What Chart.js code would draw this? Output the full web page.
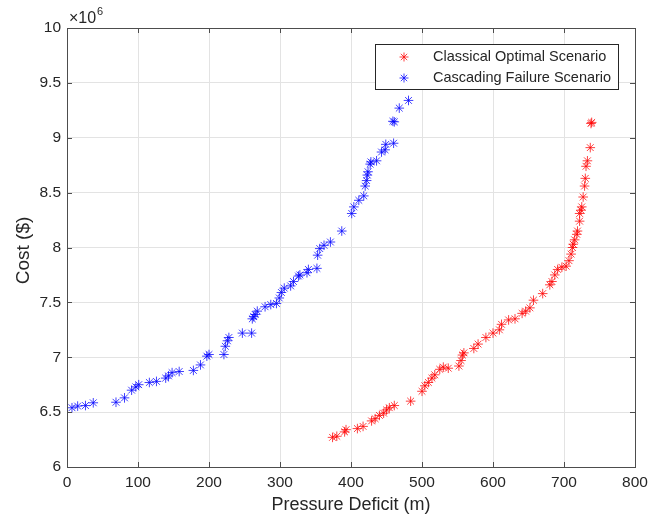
<!DOCTYPE html>
<html>
<head>
<meta charset="utf-8">
<script src="https://cdn.jsdelivr.net/npm/chart.js@4.4.1/dist/chart.umd.min.js"></script>
<style>
  html, body { margin: 0; padding: 0; background: #fff; }
  #wrap { width: 665px; height: 519px; }
</style>
</head>
<body>
<div id="wrap"><canvas id="costChart" width="665" height="519"></canvas></div>
<script>
// cost values are in millions of $ (axis shows x10^6)
const classicalDeficit = [374, 380, 391, 393, 409, 417, 429, 434, 440, 446, 450, 454, 461, 484,
  500, 504, 509, 514, 518, 525, 530, 537, 552, 555, 557, 559, 573, 579, 590, 600, 609, 612,
  622, 631, 641, 646, 652, 657, 670, 680, 683, 687, 691, 697, 703, 707, 710, 712, 713, 715,
  718, 719, 722, 722, 724, 725, 727, 729, 730, 731, 733, 737, 738, 739];
const classicalCost = [6.27, 6.28, 6.32, 6.34, 6.35, 6.37, 6.42, 6.44, 6.47, 6.49, 6.52, 6.54, 6.56, 6.60,
  6.69, 6.74, 6.77, 6.81, 6.84, 6.89, 6.91, 6.90, 6.92, 6.97, 7.02, 7.04, 7.08, 7.12, 7.18, 7.22, 7.25, 7.30,
  7.34, 7.35, 7.40, 7.42, 7.45, 7.52, 7.58, 7.66, 7.69, 7.75, 7.80, 7.82, 7.83, 7.88, 7.94, 8.00, 8.03, 8.07,
  8.12, 8.15, 8.24, 8.31, 8.34, 8.37, 8.46, 8.56, 8.63, 8.74, 8.79, 8.91, 9.13, 9.14];

const cascadingDeficit = [7, 15, 26, 37, 69, 81, 91, 97, 101, 116, 126, 139, 143, 148, 158, 178, 188,
  197, 200, 221, 223, 226, 228, 247, 260, 261, 263, 265, 268, 279, 287, 295, 299, 302, 306, 315, 319,
  326, 328, 338, 340, 352, 353, 356, 362, 371, 387, 401, 404, 411, 418, 420, 422, 423, 424, 427, 428,
  436, 443, 448, 449, 460, 459, 461, 468, 481];
const cascadingCost = [6.54, 6.555, 6.56, 6.585, 6.59, 6.63, 6.70, 6.73, 6.75, 6.77, 6.78, 6.81, 6.83, 6.86, 6.87, 6.88, 6.93,
  7.01, 7.025, 7.025, 7.10, 7.15, 7.18, 7.22, 7.22, 7.35, 7.37, 7.39, 7.42, 7.46, 7.48, 7.49, 7.54, 7.59, 7.63, 7.65, 7.69,
  7.74, 7.75, 7.77, 7.80, 7.81, 7.93, 7.99, 8.02, 8.05, 8.15, 8.31, 8.37, 8.43, 8.47, 8.56, 8.61, 8.66, 8.69, 8.76, 8.78,
  8.79, 8.87, 8.89, 8.94, 8.95, 9.15, 9.145, 9.27, 9.34];

const seriesNames = ['Classical Optimal Scenario', 'Cascading Failure Scenario'];
const seriesColors = ['rgba(255,0,0,0.75)', 'rgba(0,0,255,0.75)'];
const xTicks = [0, 100, 200, 300, 400, 500, 600, 700, 800];
const yTicks = [6, 6.5, 7, 7.5, 8, 8.5, 9, 9.5, 10];
const xLabel = 'Pressure Deficit (m)';
const yLabel = 'Cost ($)';

const toPoints = (xs, ys) => xs.map((x, i) => ({ x: x, y: ys[i] }));

const FONT = '"Liberation Sans", Arial, sans-serif';
const TEXT = '#262626';

function asterisk(ctx, x, y, r) {
  ctx.beginPath();
  ctx.moveTo(x - r, y); ctx.lineTo(x + r, y);
  ctx.moveTo(x, y - r); ctx.lineTo(x, y + r);
  const d = r * 0.707;
  ctx.moveTo(x - d, y - d); ctx.lineTo(x + d, y + d);
  ctx.moveTo(x - d, y + d); ctx.lineTo(x + d, y - d);
  ctx.stroke();
}

// box, inward ticks, axis titles, exponent and legend (MATLAB look)
const matlabFrame = {
  id: 'matlabFrame',
  afterDraw(chart) {
    const ctx = chart.ctx;
    const a = chart.chartArea;
    const xs = chart.scales.x, ys = chart.scales.y;
    ctx.save();
    ctx.strokeStyle = '#4d4d4d';
    ctx.lineWidth = 1;
    ctx.strokeRect(Math.round(a.left) + 0.5, Math.round(a.top) + 0.5,
      Math.round(a.right - a.left), Math.round(a.bottom - a.top));
    ctx.beginPath();
    xTicks.forEach(t => {
      const px = Math.round(xs.getPixelForValue(t)) + 0.5;
      ctx.moveTo(px, a.bottom); ctx.lineTo(px, a.bottom - 5);
      ctx.moveTo(px, a.top); ctx.lineTo(px, a.top + 5);
    });
    yTicks.forEach(t => {
      const py = Math.round(ys.getPixelForValue(t)) + 0.5;
      ctx.moveTo(a.left, py); ctx.lineTo(a.left + 5, py);
      ctx.moveTo(a.right, py); ctx.lineTo(a.right - 5, py);
    });
    ctx.stroke();

    ctx.fillStyle = TEXT;
    ctx.font = '18px ' + FONT;
    ctx.textAlign = 'center';
    ctx.textBaseline = 'middle';
    ctx.fillText(xLabel, (a.left + a.right) / 2, 505);
    ctx.save();
    ctx.translate(24, (a.top + a.bottom) / 2 + 3);
    ctx.rotate(-Math.PI / 2);
    ctx.font = '19px ' + FONT;
    ctx.fillText(yLabel, 0, 0);
    ctx.restore();

    ctx.textAlign = 'left';
    ctx.font = '16px ' + FONT;
    ctx.fillText('\u00d710', 69, 19);
    ctx.font = '11px ' + FONT;
    ctx.fillText('6', 97, 12);

    // legend
    const lx = 375, ly = 44, lw = 243, lh = 45;
    ctx.fillStyle = '#fff';
    ctx.fillRect(lx, ly, lw, lh);
    ctx.strokeStyle = '#262626';
    ctx.strokeRect(lx + 0.5, ly + 0.5, lw, lh);
    ctx.font = '14.5px ' + FONT;
    seriesNames.forEach((name, i) => {
      const cy = ly + 13 + i * 21;
      ctx.strokeStyle = seriesColors[i];
      asterisk(ctx, 404, cy, 4.5);
      ctx.fillStyle = TEXT;
      ctx.fillText(name, 433, cy);
    });
    ctx.restore();
  }
};

const ctx = document.getElementById('costChart').getContext('2d');
new Chart(ctx, {
  type: 'scatter',
  data: {
    datasets: [
      {
        label: seriesNames[0],
        data: toPoints(classicalDeficit, classicalCost),
        pointStyle: 'star',
        pointRadius: 4.8,
        borderColor: seriesColors[0],
        backgroundColor: seriesColors[0],
        pointBorderWidth: 1,
      },
      {
        label: seriesNames[1],
        data: toPoints(cascadingDeficit, cascadingCost),
        pointStyle: 'star',
        pointRadius: 4.8,
        borderColor: seriesColors[1],
        backgroundColor: seriesColors[1],
        pointBorderWidth: 1,
      }
    ]
  },
  options: {
    responsive: false,
    animation: false,
    layout: { padding: { top: 28, right: 30, left: 0, bottom: 0 } },
    plugins: {
      legend: { display: false },
      tooltip: { enabled: false },
    },
    scales: {
      x: {
        type: 'linear',
        min: 0,
        max: 800,
        afterFit: (s) => { s.height = 52; },
        afterBuildTicks: (s) => { s.ticks = xTicks.map(v => ({ value: v })); },
        grid: { color: '#e3e3e3', drawTicks: false },
        border: { display: false },
        ticks: {
          color: TEXT,
          padding: 6,
          maxRotation: 0,
          font: { family: FONT, size: 15.5 },
        },
      },
      y: {
        type: 'linear',
        min: 6,
        max: 10,
        afterFit: (s) => { s.width = 67; },
        afterBuildTicks: (s) => { s.ticks = yTicks.map(v => ({ value: v })); },
        grid: { color: '#e3e3e3', drawTicks: false },
        border: { display: false },
        ticks: {
          color: TEXT,
          padding: 6,
          font: { family: FONT, size: 15.5 },
          callback: (val) => String(val),
        },
      }
    }
  },
  plugins: [matlabFrame]
});
</script>
</body>
</html>
